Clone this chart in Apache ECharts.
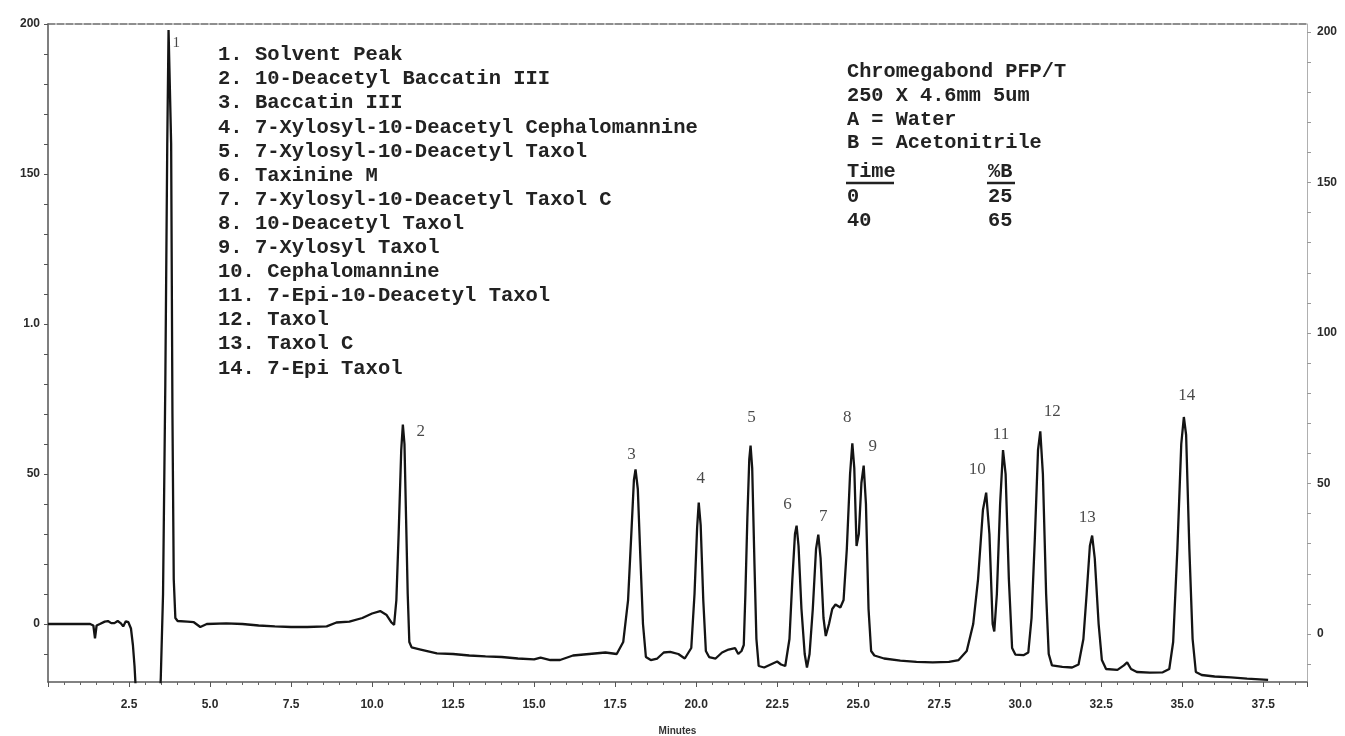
<!DOCTYPE html>
<html>
<head>
<meta charset="utf-8">
<script src="https://cdn.jsdelivr.net/npm/echarts@6/dist/echarts.min.js"></script>
<style>html,body{margin:0;padding:0;background:#fff;}#c{width:1345px;height:736px;}</style>
</head>
<body>
<div id="c"></div>
<script>
// ---- data ----
const traceTime = [
  0.00, 1.30, 1.40, 1.45, 1.50, 1.60, 1.75, 1.85, 1.95, 2.05,
  2.15, 2.25, 2.32, 2.40, 2.48, 2.56, 2.62, 2.67, 2.72, 2.78,
  3.40, 3.48, 3.55, 3.62, 3.68, 3.72, 3.76, 3.80, 3.84, 3.88,
  3.93, 4.00, 4.30, 4.50, 4.70, 4.90, 5.50, 6.00, 6.50, 7.00,
  7.50, 8.00, 8.60, 8.90, 9.30, 9.70, 10.00, 10.25, 10.45, 10.60,
  10.68, 10.75, 10.82, 10.90, 10.95, 11.00, 11.05, 11.10, 11.15, 11.22,
  11.50, 12.00, 12.50, 13.00, 13.50, 14.00, 14.50, 15.00, 15.20, 15.50,
  15.80, 16.20, 16.70, 17.20, 17.55, 17.75, 17.90, 18.00, 18.08, 18.13,
  18.20, 18.28, 18.36, 18.45, 18.60, 18.80, 19.00, 19.20, 19.45, 19.65,
  19.85, 19.95, 20.03, 20.08, 20.14, 20.22, 20.30, 20.40, 20.60, 20.80,
  21.00, 21.20, 21.30, 21.40, 21.47, 21.52, 21.58, 21.64, 21.68, 21.73,
  21.80, 21.86, 21.93, 22.10, 22.30, 22.50, 22.62, 22.75, 22.88, 22.97,
  23.05, 23.10, 23.16, 23.25, 23.35, 23.42, 23.50, 23.60, 23.70, 23.77,
  23.84, 23.93, 24.00, 24.10, 24.20, 24.30, 24.45, 24.55, 24.65, 24.75,
  24.82, 24.88, 24.95, 25.02, 25.10, 25.17, 25.24, 25.32, 25.40, 25.50,
  25.80, 26.30, 26.80, 27.30, 27.80, 28.10, 28.35, 28.55, 28.70, 28.85,
  28.95, 29.05, 29.15, 29.20, 29.28, 29.38, 29.47, 29.55, 29.65, 29.75,
  29.85, 30.10, 30.25, 30.35, 30.45, 30.55, 30.62, 30.70, 30.80, 30.88,
  30.98, 31.30, 31.60, 31.80, 31.95, 32.05, 32.15, 32.22, 32.30, 32.42,
  32.52, 32.65, 33.00, 33.20, 33.30, 33.42, 33.60, 34.00, 34.40, 34.60,
  34.72, 34.85, 34.97, 35.05, 35.12, 35.22, 35.32, 35.42, 35.60, 36.00,
  36.50, 37.00, 37.65
];
const traceSignal = [
  0, 0, -0.5, -4.8, -0.5, 0, 0.8, 1.0, 0.3, 0.3,
  1.0, 0.2, -0.8, 0.9, 0.6, -1.5, -7, -14, -24, -40,
  -40, -18, 10, 80, 160, 198, 198.5, 160, 70, 15,
  2, 1.0, 0.8, 0.6, -1.0, 0, 0.2, 0, -0.5, -0.8,
  -1.0, -1.0, -0.8, 0.5, 0.8, 2.0, 3.5, 4.3, 3.0, 0.5,
  -0.3, 8, 30, 58, 66.5, 60, 35, 10, -6, -7.8,
  -8.5, -9.8, -10, -10.5, -10.8, -11, -11.5, -11.8, -11.2, -12,
  -12, -10.5, -10, -9.5, -10, -6, 8, 30, 48, 51.5,
  45, 22, 0, -11, -12, -11.5, -9.5, -9.3, -10, -11.5,
  -8, 10, 32, 40.5, 33, 8, -9, -11, -11.5, -9.5,
  -8.5, -8, -10, -9, -7, 10, 35, 55, 59.5, 52,
  20, -5, -14, -14.5, -13.5, -12.5, -13.5, -14, -5, 15,
  30, 32.8, 26, 5, -10, -14.5, -10, 5, 25, 29.8,
  22, 2, -4, 0, 5, 6.5, 5.5, 8, 25, 50,
  60.2, 52, 26, 30, 47, 52.8, 40, 5, -9, -10.5,
  -11.5, -12.2, -12.6, -12.8, -12.6, -12, -9, 0, 15, 38,
  43.8, 30, 0, -2.5, 10, 40, 58, 50, 15, -8,
  -10.2, -10.4, -9.5, 2, 28, 58, 64.2, 50, 10, -10,
  -13.8, -14.3, -14.5, -13.5, -5, 10, 26, 29.5, 22, 0,
  -12, -15, -15.3, -13.8, -12.8, -15, -16, -16.2, -16.1, -15,
  -6, 25, 60, 69, 63, 25, -5, -16, -17, -17.5,
  -17.8, -18.2, -18.6
];
const peakNames = ['1','2','3','4','5','6','7','8','9','10','11','12','13','14'];
const peakTimes = [3.74, 10.95, 18.13, 20.08, 21.68, 23.10, 23.77, 24.82, 25.17, 28.95, 29.47, 30.62, 32.22, 35.05];
const peakHeights = [198.5, 66.5, 51.5, 40.5, 59.5, 32.8, 29.8, 60.2, 52.8, 43.8, 58, 64.2, 29.5, 69];
const xTickLabels = [2.5, 5, 7.5, 10, 12.5, 15, 17.5, 20, 22.5, 25, 27.5, 30, 32.5, 35, 37.5];
const yTickLabels = [0, 50, 100, 150, 200];
const compoundList = [
  '1. Solvent Peak',
  '2. 10-Deacetyl Baccatin III',
  '3. Baccatin III',
  '4. 7-Xylosyl-10-Deacetyl Cephalomannine',
  '5. 7-Xylosyl-10-Deacetyl Taxol',
  '6. Taxinine M',
  '7. 7-Xylosyl-10-Deacetyl Taxol C',
  '8. 10-Deacetyl Taxol',
  '9. 7-Xylosyl Taxol',
  '10. Cephalomannine',
  '11. 7-Epi-10-Deacetyl Taxol',
  '12. Taxol',
  '13. Taxol C',
  '14. 7-Epi Taxol'
];
const columnInfo = ['Chromegabond PFP/T', '250 X 4.6mm 5um', 'A = Water', 'B = Acetonitrile'];
const gradientTime = ['0', '40'];
const gradientB = ['25', '65'];

// ---- styles / layout ----
const labelOffsets = [[7,15],[18,7],[-4,-15],[2,-24],[1,-28],[-9,-21],[5,-18],[-5,-26],[9,-19],[-9,-23],[-2,-15],[12,-20],[-5,-18],[3,-21]];
const tickEvery10 = [];
for (let v = -10; v <= 200; v += 10) tickEvery10.push(v);

const chart = echarts.init(document.getElementById('c'), null, {renderer: 'canvas'});
const mono = '"Liberation Mono","DejaVu Sans Mono",monospace';
const axisFont = {fontFamily: '"Liberation Sans",Arial,sans-serif', fontWeight: 'bold', fontSize: 12, color: '#2a2a2a'};
const textFill = '#222';

const graphics = [
  {type: 'text', left: 218, top: 43, style: {text: compoundList.join('\n'), font: 'bold 20.5px ' + mono, lineHeight: 24.1, fill: textFill}},
  {type: 'text', left: 847, top: 60, style: {text: columnInfo.join('\n'), font: 'bold 20.3px ' + mono, lineHeight: 23.8, fill: textFill}},
  {type: 'text', left: 847, top: 160, style: {text: 'Time\n' + gradientTime.join('\n'), font: 'bold 20.3px ' + mono, lineHeight: 24.5, fill: textFill}},
  {type: 'text', left: 988, top: 160, style: {text: '%B\n' + gradientB.join('\n'), font: 'bold 20.3px ' + mono, lineHeight: 24.5, fill: textFill}},
  {type: 'line', shape: {x1: 846, y1: 183, x2: 894, y2: 183}, style: {stroke: textFill, lineWidth: 2.5}},
  {type: 'line', shape: {x1: 987, y1: 183, x2: 1015, y2: 183}, style: {stroke: textFill, lineWidth: 2.5}}
];

const option = {
  animation: false,
  backgroundColor: '#fff',
  grid: {left: 48, right: 38, top: 24, bottom: 54, containLabel: false, outerBoundsMode: 'none'},
  xAxis: [{
    type: 'value', min: 0, max: 38.85, interval: 2.5, position: 'bottom',
    name: 'Minutes', nameLocation: 'middle', nameGap: 44,
    nameTextStyle: {fontFamily: '"Liberation Sans",Arial,sans-serif', fontWeight: 'bold', fontSize: 10, color: '#333'},
    axisLine: {show: true, onZero: false, lineStyle: {color: '#5a5a5a', width: 1.5}},
    axisTick: {show: true, length: 5, lineStyle: {color: '#555'}},
    minorTick: {show: true, splitNumber: 5, length: 3, lineStyle: {color: '#666'}},
    splitLine: {show: false},
    axisLabel: Object.assign({margin: 17, formatter: function (v) {
      for (const t of xTickLabels) { if (Math.abs(t - v) < 1e-6) return t.toFixed(1); }
      return '';
    }}, axisFont)
  }, {
    type: 'value', min: 0, max: 38.85, position: 'top',
    axisLine: {show: true, onZero: false, lineStyle: {color: '#6a6a6a', width: 1.5, type: [7, 2]}},
    axisTick: {show: false}, axisLabel: {show: false}, splitLine: {show: false}
  }],
  yAxis: [{
    type: 'value', min: -19.33, max: 200, position: 'left',
    axisLine: {show: true, onZero: false, lineStyle: {color: '#555', width: 1.5}},
    axisTick: {show: true, length: 4, inside: false, customValues: tickEvery10, lineStyle: {color: '#555'}},
    splitLine: {show: false},
    axisLabel: Object.assign({margin: 8, customValues: yTickLabels, formatter: function (v) { return v === 100 ? '1.0' : String(v); }}, axisFont)
  }, {
    type: 'value', min: -15.95, max: 202.66, position: 'right',
    axisLine: {show: true, onZero: false, lineStyle: {color: '#b0b0b0', width: 1}},
    axisTick: {show: true, length: 4, customValues: tickEvery10, lineStyle: {color: '#999'}},
    splitLine: {show: false},
    axisLabel: Object.assign({margin: 10, customValues: yTickLabels}, axisFont)
  }],
  graphic: graphics,
  series: [{
    type: 'line', xAxisIndex: 0, yAxisIndex: 0, showSymbol: false, symbol: 'none', smooth: false, clip: true,
    lineStyle: {color: '#141414', width: 2.3},
    emphasis: {disabled: true}, silent: true,
    data: traceTime.map((t, i) => [t, traceSignal[i]])
  }, {
    type: 'scatter', xAxisIndex: 0, yAxisIndex: 0, symbolSize: 0, silent: true,
    emphasis: {disabled: true},
    data: peakTimes.map((t, i) => ({
      value: [t, peakHeights[i]], name: peakNames[i],
      label: {offset: labelOffsets[i], fontSize: i === 0 ? 15 : 17}
    })),
    label: {show: true, position: 'inside', formatter: p => p.name,
      fontFamily: '"Liberation Serif","Times New Roman",serif', color: '#1a1a1a', fontSize: 17}
  }]
};
chart.setOption(option);
</script>
</body>
</html>
